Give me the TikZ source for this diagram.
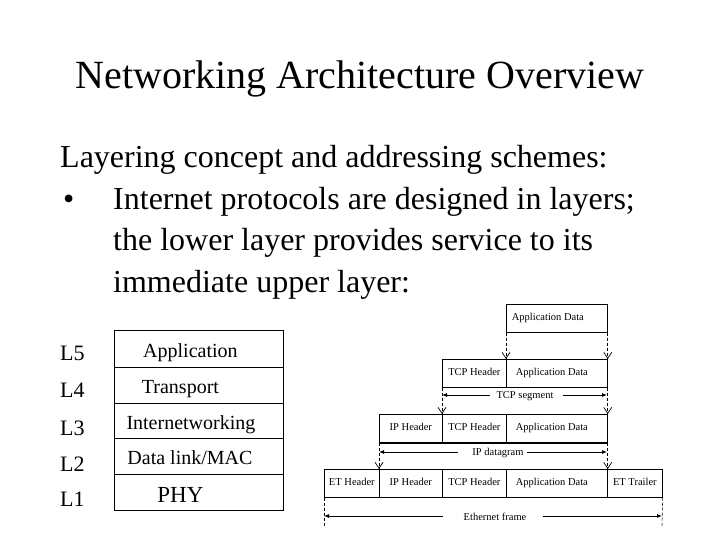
\documentclass[tikz,border=0pt]{standalone}
\usepackage{fontspec}
\setmainfont{Liberation Serif}
\usetikzlibrary{arrows.meta}
\begin{document}
\begin{tikzpicture}[x=1pt,y=-1pt,
  cell/.style={draw,line width=0.7pt,anchor=north west,minimum height=28pt,inner sep=0pt,text height=7.5pt,text depth=2.5pt,font=\fontsize{10.5}{11}\selectfont},
  layer/.style={draw,line width=0.9pt,anchor=north west,minimum width=169pt,inner sep=0pt,text height=17pt,text depth=0pt,font=\fontsize{20}{22}\selectfont},
  lab/.style={anchor=base west,inner sep=0pt,font=\fontsize{22}{24}\selectfont},
  body/.style={anchor=base west,inner sep=0pt,font=\fontsize{32}{34}\selectfont},
  down/.style={dashed,dash pattern=on 3pt off 2pt,line width=0.6pt,-{Straight Barb[length=6pt,width=8pt,line width=0.7pt]}},
  tick/.style={dashed,dash pattern=on 3pt off 2pt,line width=0.6pt},
  dim/.style={line width=0.8pt,-{Latex[length=5pt,width=4pt]}},
  dimlab/.style={inner sep=0pt,font=\fontsize{10.5}{11}\selectfont}]
\useasboundingbox[fill=white] (0,0) rectangle (720,540);
% title and body text
\node[anchor=base,inner sep=0pt,font=\fontsize{40}{44}\selectfont] (title) at (360,89) {Networking Architecture Overview};
\node[body] (t1) at (60,168) {Layering concept and addressing schemes:};
\node[body] (bul) at (63,210) {\textbullet};
\node[body] (t2) at (113,210) {Internet protocols are designed in layers;};
\node[body] (t3) at (113,251) {the lower layer provides service to its};
\node[body] (t4) at (113,292) {immediate upper layer:};
% layer labels
\node[lab] (l5) at (60,360) {L5};
\node[lab] (l4) at (60,397) {L4};
\node[lab] (l3) at (60,435) {L3};
\node[lab] (l2) at (60,471) {L2};
\node[lab] (l1) at (60,506) {L1};
% layer stack
\node[layer,minimum height=37pt] (app) at (114,330) {\hspace*{-17pt}Application};
\node[layer,minimum height=36pt] (trn) at (114,367) {\hspace*{-37pt}Transport};
\node[layer,minimum height=35pt] (net) at (114,403) {\hspace*{-16pt}Internetworking};
\node[layer,minimum height=36pt] (dl) at (114,438) {\hspace*{-18pt}Data link/MAC};
\node[layer,minimum height=36pt,text height=20pt,font=\fontsize{23}{25}\selectfont] (phy) at (114,474) {\hspace*{-37pt}PHY};
% packet rows
\node[cell,minimum width=101pt] (ad0) at (506,304) {\hspace*{-18pt}Application Data};
\node[cell,minimum width=64pt] (th1) at (442,359) {TCP Header};
\node[cell,minimum width=101pt] (ad1) at (506,359) {\hspace*{-10pt}Application Data};
\node[cell,minimum width=63pt] (ih2) at (379,414) {IP Header};
\node[cell,minimum width=64pt] (th2) at (442,414) {TCP Header};
\node[cell,minimum width=101pt] (ad2) at (506,414) {\hspace*{-10pt}Application Data};
\node[cell,minimum width=55pt] (eh3) at (324,469) {ET Header};
\node[cell,minimum width=63pt] (ih3) at (379,469) {IP Header};
\node[cell,minimum width=64pt] (th3) at (442,469) {TCP Header};
\node[cell,minimum width=101pt] (ad3) at (506,469) {\hspace*{-10pt}Application Data};
\node[cell,minimum width=55pt] (et3) at (607,469) {ET Trailer};
\draw[line width=2pt] (ih2.south west) -- (ad2.south east);
% dashed drops
\draw[down] (ad0.south west) -- (ad1.north west);
\draw[down] (ad0.south east) -- (ad1.north east);
\draw[down] (th1.south west) -- (th2.north west);
\draw[down] (ad1.south east) -- (ad2.north east);
\draw[down] (ih2.south west) -- (ih3.north west);
\draw[down] (ad2.south east) -- (ad3.north east);
\coordinate (el) at (324,526);
\coordinate (er) at (662,526);
\draw[tick] (eh3.south west) -- (el);
\draw[tick] (et3.south east) -- (er);
% dimension arrows
\coordinate (segL) at (442,395); \coordinate (segR) at (607,395);
\node[dimlab] (seg) at (525,396) {TCP segment};
\coordinate (s1) at (490,395); \coordinate (s2) at (563,395);
\draw[dim] (s1) -- (segL);
\draw[dim] (s2) -- (segR);
\coordinate (dgL) at (379,452); \coordinate (dgR) at (607,452);
\node[dimlab] (dg) at (498,453) {IP datagram};
\coordinate (d1) at (458,452); \coordinate (d2) at (527,452);
\draw[dim] (d1) -- (dgL);
\draw[dim] (d2) -- (dgR);
\coordinate (frL) at (324,516); \coordinate (frR) at (662,516);
\node[dimlab] (fr) at (495,517) {Ethernet frame};
\coordinate (f1) at (443,516); \coordinate (f2) at (543,516);
\draw[dim] (f1) -- (frL);
\draw[dim] (f2) -- (frR);
\end{tikzpicture}
\end{document}
